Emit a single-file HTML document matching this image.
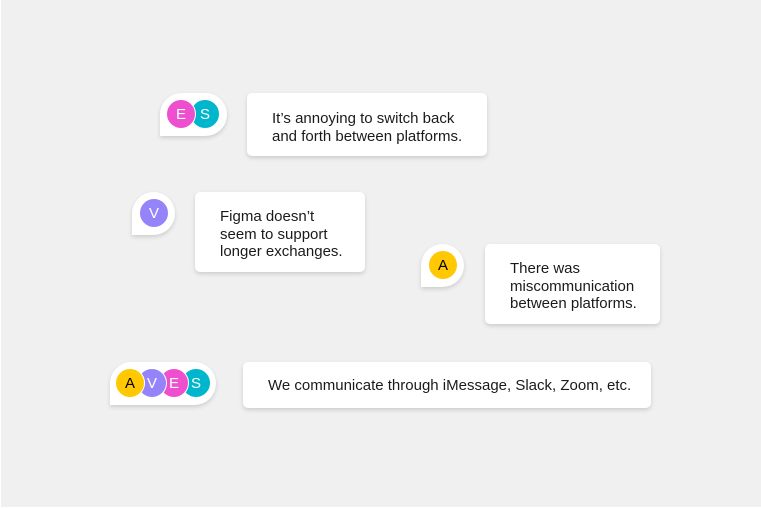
<!DOCTYPE html>
<html><head><meta charset="utf-8"><style>
html,body{margin:0;padding:0;}
body{width:761px;height:508px;background:#fff;position:relative;overflow:hidden;font-family:"Liberation Sans",sans-serif;}
.bg{position:absolute;left:1px;top:0;width:760px;height:507px;background:#f0f0f0;}
.card{position:absolute;background:#fff;border-radius:5px;box-shadow:0 2px 4px rgba(0,0,0,0.15);font-size:15px;line-height:17.5px;color:#1a1a1a;box-sizing:border-box;}
.pill{position:absolute;background:#fff;border-radius:22px 22px 22px 0;box-shadow:0 2px 4px rgba(0,0,0,0.15);height:43px;}
.c{position:absolute;width:28px;height:28px;border-radius:50%;top:7px;color:#fff;font-size:15px;line-height:30px;text-align:center;border:1px solid #fff;box-sizing:content-box;margin-left:-2px;margin-top:-1px}
.E{background:#ee4fcf}.S{background:#00b6cd}.V{background:#9584f9}.A{background:#ffc800;color:#000}
</style></head><body>
<div class="bg"></div>

<div class="pill" style="left:160px;top:93px;width:67px;">
<div class="c S" style="left:32px">S</div>
<div class="c E" style="left:8px">E</div>
</div>
<div class="card" style="left:247px;top:93px;width:240px;height:63px;padding:17px 0 0 25px;">It’s annoying to switch back<br>and forth between platforms.</div>

<div class="pill" style="left:132px;top:192px;width:43px;">
<div class="c V" style="left:9px">V</div>
</div>
<div class="card" style="left:195px;top:192px;width:170px;height:80px;padding:16px 0 0 25px;">Figma doesn’t<br>seem to support<br>longer exchanges.</div>

<div class="pill" style="left:421px;top:244px;width:43px;">
<div class="c A" style="left:9px">A</div>
</div>
<div class="card" style="left:485px;top:244px;width:175px;height:80px;padding:16px 0 0 25px;">There was<br>miscommunication<br>between platforms.</div>

<div class="pill" style="left:110px;top:362px;width:106px;">
<div class="c S" style="left:73px">S</div>
<div class="c E" style="left:51px">E</div>
<div class="c V" style="left:29px">V</div>
<div class="c A" style="left:7px">A</div>
</div>
<div class="card" style="left:243px;top:362px;width:408px;height:46px;padding:15px 0 0 25px;">We communicate through iMessage, Slack, Zoom, etc.</div>
</body></html>
